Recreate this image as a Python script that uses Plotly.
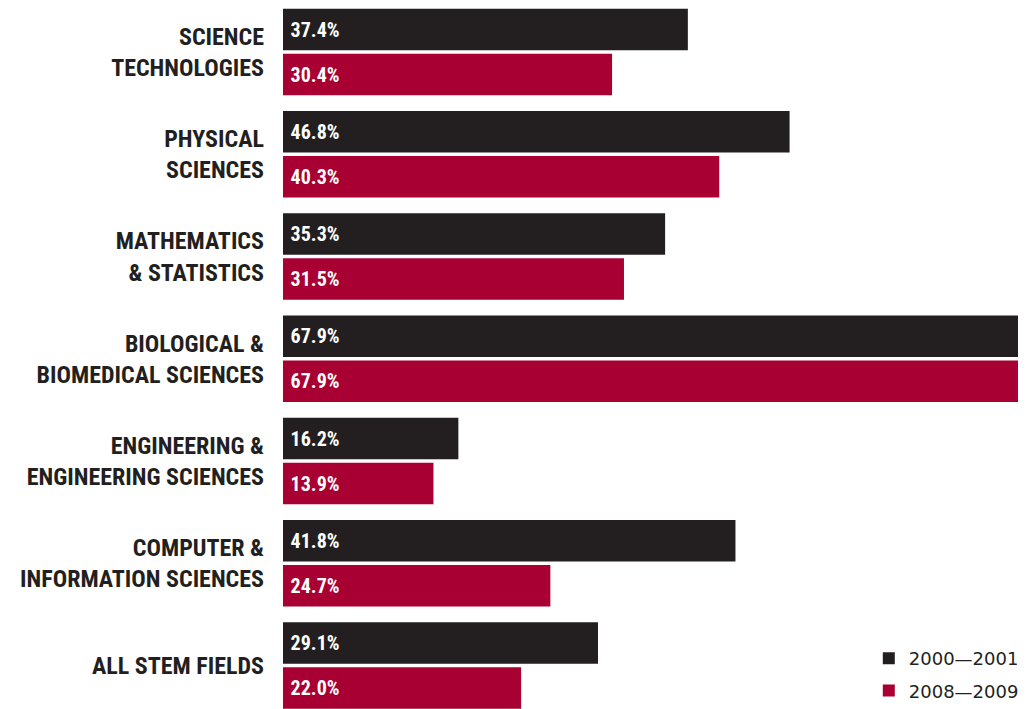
import plotly.graph_objects as go

# Share of degrees, by field, for two academic years
categories = [
    "SCIENCE<br>TECHNOLOGIES",
    "PHYSICAL<br>SCIENCES",
    "MATHEMATICS<br>& STATISTICS",
    "BIOLOGICAL &<br>BIOMEDICAL SCIENCES",
    "ENGINEERING &<br>ENGINEERING SCIENCES",
    "COMPUTER &<br>INFORMATION SCIENCES",
    "ALL STEM FIELDS",
]
values_2000_2001 = [37.4, 46.8, 35.3, 67.9, 16.2, 41.8, 29.1]
values_2008_2009 = [30.4, 40.3, 31.5, 67.9, 13.9, 24.7, 22.0]
series_names = ["2000\u20142001", "2008\u20142009"]

DARK = "#231f20"
CRIMSON = "#a80032"
CONDENSED = "Roboto Condensed, Open Sans Condensed, DejaVu Sans Condensed, sans-serif"

fig = go.Figure()
for name, vals, color in [
    (series_names[0], values_2000_2001, DARK),
    (series_names[1], values_2008_2009, CRIMSON),
]:
    fig.add_trace(go.Bar(
        y=categories,
        x=vals,
        name=name,
        orientation="h",
        marker=dict(color=color, line=dict(width=0)),
        texttemplate="\u00a0%{x:.1f}%",
        textposition="inside",
        insidetextanchor="start",
        textfont=dict(family=CONDENSED, size=20, color="white", weight="bold"),
        legendgroup=name,
        hoverinfo="skip",
    ))

fig.update_layout(
    width=1028,
    height=709,
    margin=dict(l=283, r=10, t=0, b=0),
    paper_bgcolor="white",
    plot_bgcolor="white",
    barmode="group",
    bargap=0.12,
    bargroupgap=0.078,
    showlegend=True,
    legend=dict(
        x=0.797, xanchor="left",
        y=0.0, yanchor="bottom",
        font=dict(family="DejaVu Sans, sans-serif", size=18, color=DARK),
        bgcolor="rgba(0,0,0,0)",
        tracegroupgap=6,
        itemclick=False,
    ),
    xaxis=dict(
        range=[0, 67.9],
        showgrid=False,
        zeroline=False,
        showticklabels=False,
        showline=False,
    ),
    yaxis=dict(
        type="category",
        range=[6.425, -0.509],
        automargin=False,
        showgrid=False,
        zeroline=False,
        showline=False,
        ticks="",
        ticklabelstandoff=18,
        tickfont=dict(family=CONDENSED, size=24, color=DARK, weight="bold"),
    ),
)

fig.write_html("out.html")
